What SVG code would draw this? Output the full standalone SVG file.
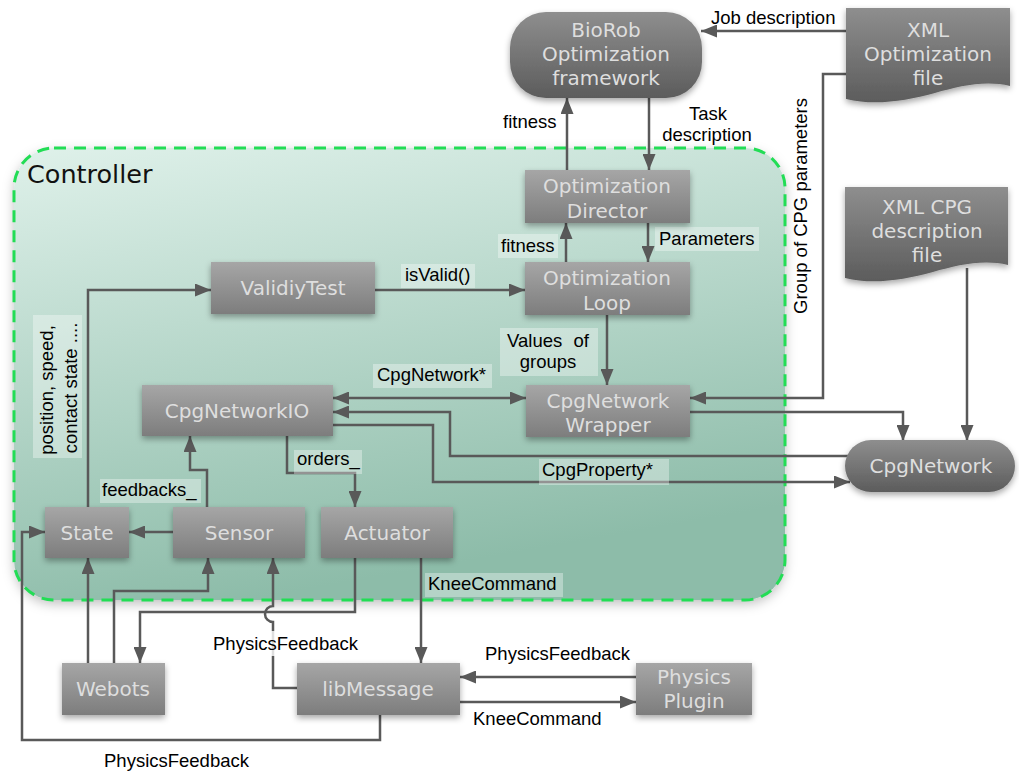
<svg xmlns="http://www.w3.org/2000/svg" width="1019" height="771" viewBox="0 0 1019 771">
<style>
.nt{font-family:"DejaVu Sans","Verdana",sans-serif;font-size:20px;fill:#dedede;text-anchor:middle}
.lt{font-family:"Liberation Sans",Arial,sans-serif;font-size:18.5px;fill:#000}
.lb{fill:#ffffff;fill-opacity:0.35}
.cn{fill:none;stroke:#595959;stroke-width:2.5}
.box{fill:url(#gb);filter:url(#sh)}
.dark{fill:url(#gd);filter:url(#sh)}
</style>
<defs>
<linearGradient id="gb" x1="0" y1="0" x2="0" y2="1"><stop offset="0" stop-color="#a6a6a6"/><stop offset="1" stop-color="#7d7d7d"/></linearGradient>
<linearGradient id="gd" x1="0" y1="0" x2="0" y2="1"><stop offset="0" stop-color="#8e8e8e"/><stop offset="1" stop-color="#5c5c5c"/></linearGradient>
<linearGradient id="gc" x1="0" y1="0" x2="0.3" y2="1"><stop offset="0" stop-color="#dff1ea"/><stop offset="1" stop-color="#8dbca9"/></linearGradient>
<filter id="sh" x="-20%" y="-20%" width="140%" height="160%"><feDropShadow dx="0" dy="3" stdDeviation="3" flood-color="#000" flood-opacity="0.35"/></filter>
<filter id="csh" x="-10%" y="-10%" width="120%" height="120%"><feDropShadow dx="0" dy="4" stdDeviation="6" flood-color="#000" flood-opacity="0.25"/></filter>
<marker id="ah" viewBox="0 0 16 13" refX="16" refY="6.5" markerWidth="16" markerHeight="13" markerUnits="userSpaceOnUse" orient="auto-start-reverse"><path d="M0,0 L16,6.5 L0,13 z" fill="#595959"/></marker>
</defs>
<rect width="1019" height="771" fill="#ffffff"/>
<g id="controller">
<rect x="14" y="148" width="771" height="452" rx="40" ry="40" fill="url(#gc)" filter="url(#csh)"/>
<rect x="14" y="148" width="771" height="452" rx="40" ry="40" fill="none" stroke="#22dd55" stroke-width="3" stroke-dasharray="12 8"/>
<text x="27" y="183" font-family="DejaVu Sans, Verdana, sans-serif" font-size="25.5" fill="#111">Controller</text>
</g>
<g id="connectors">
<path class="cn" d="M846,31 H701" marker-end="url(#ah)"/>
<path class="cn" d="M567,170 V98" marker-end="url(#ah)"/>
<path class="cn" d="M649,98 V170" marker-end="url(#ah)"/>
<path class="cn" d="M566,262 V223" marker-end="url(#ah)"/>
<path class="cn" d="M648,223 V262" marker-end="url(#ah)"/>
<path class="cn" d="M375,290 H525" marker-end="url(#ah)"/>
<path class="cn" d="M88,507 V290 H211" marker-end="url(#ah)"/>
<path class="cn" d="M607,315 V385" marker-end="url(#ah)"/>
<path class="cn" d="M333,398 H526" marker-start="url(#ah)" marker-end="url(#ah)"/>
<path class="cn" d="M850,456 H450 V412 H333" marker-end="url(#ah)"/>
<path class="cn" d="M333,425 H433 V482 H850" marker-end="url(#ah)"/>
<path class="cn" d="M690,412 H903 V441" marker-end="url(#ah)"/>
<path class="cn" d="M846,74 H823 V398 H690" marker-end="url(#ah)"/>
<path class="cn" d="M967,268 V441" marker-end="url(#ah)"/>
<path class="cn" d="M287,436 V473 H355 V507" marker-end="url(#ah)"/>
<path class="cn" d="M207,507 V470 H190 V436" marker-end="url(#ah)"/>
<path class="cn" d="M173,532 H129" marker-end="url(#ah)"/>
<path class="cn" d="M88,663 V558" marker-end="url(#ah)"/>
<path class="cn" d="M114,663 V591 H208 V558" marker-end="url(#ah)"/>
<path class="cn" d="M297,688 H273 V622 A8,8 0 0 1 273,606 V558" marker-end="url(#ah)"/>
<path class="cn" d="M355,558 V612 H140 V663" marker-end="url(#ah)"/>
<path class="cn" d="M421,558 V663" marker-end="url(#ah)"/>
<path class="cn" d="M636,677 H460" marker-end="url(#ah)"/>
<path class="cn" d="M460,702 H636" marker-end="url(#ah)"/>
<path class="cn" d="M380,715 V740 H22 V532 H45" marker-end="url(#ah)"/>
<g id="labels">
<text class="lt" x="711" y="24">Job description</text>
<text class="lt" x="503" y="128">fitness</text>
<text class="lt" x="708" y="120" text-anchor="middle">Task</text>
<text class="lt" x="707" y="141" text-anchor="middle">description</text>
<rect class="lb" x="498" y="234" width="60" height="24"/>
<text class="lt" x="501" y="252">fitness</text>
<rect class="lb" x="655" y="227" width="104" height="24"/>
<text class="lt" x="659" y="245">Parameters</text>
<rect class="lb" x="401" y="264" width="74" height="24"/>
<text class="lt" x="405" y="281">isValid()</text>
<rect class="lb" x="500" y="328" width="98" height="48"/>
<text class="lt" x="548" y="347" text-anchor="middle" word-spacing="6">Values of</text>
<text class="lt" x="548" y="368" text-anchor="middle">groups</text>
<rect class="lb" x="373" y="364" width="119" height="24"/>
<text class="lt" x="377" y="381">CpgNetwork*</text>
<rect class="lb" x="294" y="450" width="68" height="24"/>
<text class="lt" x="297" y="465">orders_</text>
<rect class="lb" x="100" y="479" width="101" height="24"/>
<text class="lt" x="102" y="496">feedbacks_</text>
<rect class="lb" x="539" y="459" width="130" height="26"/>
<text class="lt" x="542" y="476">CpgProperty*</text>
<rect class="lb" x="425" y="573" width="138" height="24"/>
<text class="lt" x="428" y="590">KneeCommand</text>
<rect x="211" y="631" width="152" height="25" fill="#ffffff" fill-opacity="0.8"/>
<text class="lt" x="213" y="650">PhysicsFeedback</text>
<text class="lt" x="485" y="660">PhysicsFeedback</text>
<text class="lt" x="473" y="725">KneeCommand</text>
<text class="lt" x="104" y="767">PhysicsFeedback</text>
<text class="lt" transform="translate(807,206) rotate(-90)" text-anchor="middle">Group of CPG parameters</text>
<rect class="lb" x="33" y="315" width="49" height="143"/>
<text class="lt" transform="translate(53,390) rotate(-90)" text-anchor="middle">position, speed,</text>
<text class="lt" transform="translate(77,388) rotate(-90)" text-anchor="middle">contact state ....</text>
</g>
</g>
<g id="biorob">
<rect class="dark" x="510" y="12" width="192" height="86" rx="36" ry="36"/>
<text class="nt" x="606" y="37">BioRob</text>
<text class="nt" x="606" y="61">Optimization</text>
<text class="nt" x="606" y="85">framework</text>
</g>
<g id="xmlopt">
<path class="dark" d="M846,8 H1010 V86 C985,80 960,86 935,93 C905,101 875,106 846,99 Z"/>
<text class="nt" x="928" y="37">XML</text>
<text class="nt" x="928" y="61">Optimization</text>
<text class="nt" x="928" y="85">file</text>
</g>
<g id="director">
<rect class="box" x="525" y="170" width="165" height="53"/>
<text class="nt" x="607" y="193">Optimization</text>
<text class="nt" x="607" y="218">Director</text>
</g>
<g id="loop">
<rect class="box" x="525" y="262" width="165" height="53"/>
<text class="nt" x="607" y="285">Optimization</text>
<text class="nt" x="607" y="310">Loop</text>
</g>
<g id="validiytest">
<rect class="box" x="211" y="262" width="164" height="52"/>
<text class="nt" x="293" y="295">ValidiyTest</text>
</g>
<g id="xmlcpg">
<path class="dark" d="M845,187 H1008 V265 C983,259 958,265 933,272 C903,280 873,285 845,278 Z"/>
<text class="nt" x="927" y="214">XML CPG</text>
<text class="nt" x="927" y="238">description</text>
<text class="nt" x="927" y="262">file</text>
</g>
<g id="cpgnetworkio">
<rect class="box" x="142" y="385" width="191" height="51"/>
<text class="nt" x="237" y="418">CpgNetworkIO</text>
</g>
<g id="wrapper">
<rect class="box" x="526" y="385" width="164" height="52"/>
<text class="nt" x="608" y="408">CpgNetwork</text>
<text class="nt" x="608" y="432">Wrapper</text>
</g>
<g id="cpgnetwork">
<rect class="dark" x="845" y="440" width="170" height="52" rx="26" ry="26"/>
<text class="nt" x="931" y="473">CpgNetwork</text>
</g>
<g id="state">
<rect class="box" x="45" y="507" width="84" height="51"/>
<text class="nt" x="87" y="540">State</text>
</g>
<g id="sensor">
<rect class="box" x="173" y="507" width="132" height="51"/>
<text class="nt" x="239" y="540">Sensor</text>
</g>
<g id="actuator">
<rect class="box" x="321" y="507" width="132" height="51"/>
<text class="nt" x="387" y="540">Actuator</text>
</g>
<g id="webots">
<rect class="box" x="62" y="663" width="103" height="52"/>
<text class="nt" x="113" y="696">Webots</text>
</g>
<g id="libmessage">
<rect class="box" x="297" y="663" width="163" height="52"/>
<text class="nt" x="378" y="696">libMessage</text>
</g>
<g id="physicsplugin">
<rect class="box" x="636" y="663" width="116" height="52"/>
<text class="nt" x="694" y="684">Physics</text>
<text class="nt" x="694" y="708">Plugin</text>
</g>
</svg>
